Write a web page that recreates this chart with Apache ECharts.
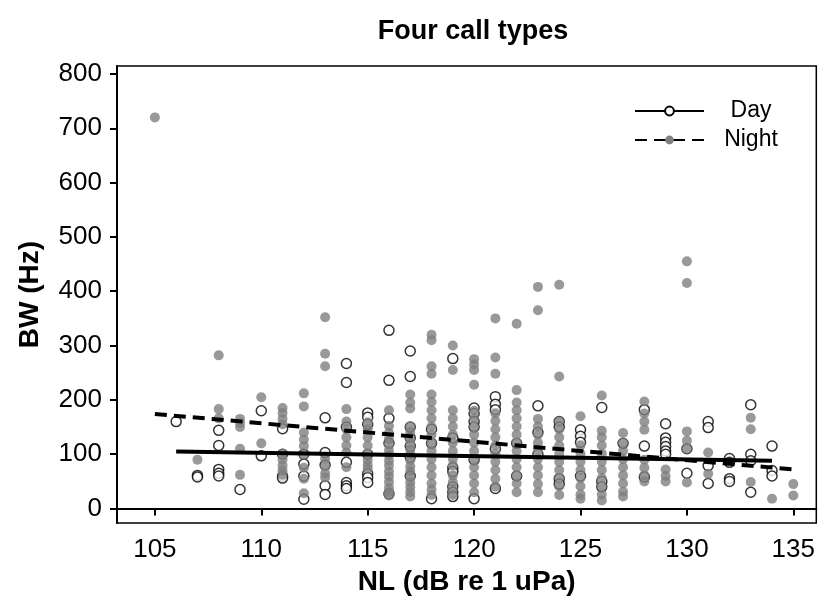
<!DOCTYPE html>
<html>
<head>
<meta charset="utf-8">
<title>Four call types</title>
<script src="https://cdn.jsdelivr.net/npm/echarts@6/dist/echarts.min.js"></script>
<style>
    html, body { margin: 0; padding: 0; background: #fff; }
    #chart { width: 818px; height: 601px; }
</style>
</head>
<body>
<div id="chart"></div>
<script>
// NL levels (dB re 1 uPa), one column of points per level
const nlLevels = [105, 106, 107, 108, 109, 110, 111, 112, 113, 114, 115, 116, 117, 118, 119, 120,
    121, 122, 123, 124, 125, 126, 127, 128, 129, 130, 131, 132, 133, 134, 135];

// BW (Hz) of day calls, per NL level
const dayBW = [
    [],
    [160],
    [61, 58],
    [144, 116, 72, 65, 60],
    [35],
    [180, 97],
    [147, 100, 60, 56],
    [100, 82, 60, 17],
    [167, 103, 80, 42, 26],
    [267, 232, 150, 85, 48, 42, 37],
    [176, 168, 155, 100, 64, 57, 48],
    [328, 236, 166, 120, 27],
    [290, 243, 150, 130, 115, 95, 60],
    [146, 120, 18],
    [276, 130, 75, 68, 40, 30, 22],
    [185, 175, 160, 150, 90, 18],
    [206, 192, 182, 110, 37],
    [120, 60],
    [189, 140, 100],
    [160, 150, 55, 45],
    [145, 133, 122, 60],
    [186, 50, 40],
    [120],
    [182, 115, 58],
    [156, 130, 122, 114, 106, 100],
    [110, 65],
    [160, 149, 79, 46],
    [92, 85, 55, 50],
    [191, 100, 88, 30],
    [115, 70, 60],
    []
];

// BW (Hz) of night calls, per NL level
const nightBW = [
    [720],
    [],
    [90],
    [282, 183, 166],
    [165, 158, 150, 110, 62],
    [205, 120],
    [185, 176, 165, 155, 101, 90, 79, 70, 62],
    [212, 188, 140, 127, 115, 99, 75, 55, 28],
    [352, 285, 262, 92, 78, 65, 57],
    [183, 160, 146, 131, 116, 103, 76],
    [158, 146, 131, 116, 101, 89, 80, 73],
    [181, 152, 139, 128, 118, 107, 98, 88, 79, 68, 59, 49, 38, 30, 24],
    [210, 195, 184, 151, 141, 129, 119, 108, 99, 89, 78, 69, 58, 48, 39, 30, 22],
    [320, 310, 262, 248, 210, 196, 181, 166, 151, 136, 121, 106, 91, 76, 61, 46, 35, 25],
    [300, 255, 181, 166, 151, 136, 121, 106, 91, 79, 61, 49, 36, 25],
    [275, 265, 255, 228, 180, 166, 151, 136, 121, 106, 91, 76, 61, 46, 30],
    [350, 278, 248, 175, 161, 146, 131, 116, 101, 86, 71, 55, 40],
    [340, 218, 195, 181, 166, 151, 136, 121, 106, 91, 76, 61, 46, 30],
    [408, 365, 165, 151, 136, 121, 106, 91, 76, 61, 45, 30],
    [412, 243, 160, 146, 131, 116, 101, 86, 71, 56, 41, 25],
    [170, 116, 101, 86, 71, 56, 41, 26, 18],
    [208, 143, 131, 116, 101, 86, 71, 56, 41, 26, 15],
    [139, 121, 106, 91, 76, 61, 46, 31, 22],
    [197, 175, 160, 145, 90, 75, 61, 50],
    [72, 60, 50],
    [455, 415, 142, 125, 110, 48],
    [103, 64],
    [],
    [167, 146, 49],
    [18],
    [45, 24]
];

// fitted lines, end points
const dayFitNL = [106, 134];
const dayFitBW = [105, 88];
const nightFitNL = [105, 135];
const nightFitBW = [174, 72];

const xTicks = [105, 110, 115, 120, 125, 130, 135];
const yTicks = [0, 100, 200, 300, 400, 500, 600, 700, 800];

const font = 'Arial, "Liberation Sans", sans-serif';

function toPoints(levels, groups) {
    let pts = [];
    levels.forEach((nl, i) => {
        for (let bw of groups[i]) pts.push([nl, bw]);
    });
    return pts;
}

function toLine(xs, ys) {
    return xs.map((x, i) => [x, ys[i]]);
}

let chart = echarts.init(document.getElementById("chart"));

let option = {
    animation: false,
    title: {
        text: "Four call types",
        left: 468,
        top: 13,
        textAlign: "center",
        textStyle: { fontFamily: font, fontSize: 27, fontWeight: "bold", color: "#000" },
    },
    legend: {
        data: ["Day", "Night"],
        orient: "vertical",
        left: 629,
        top: 94,
        itemWidth: 69,
        itemHeight: 11,
        itemGap: 5,
        selectedMode: false,
        formatter: "{t|{name}}",
        textStyle: {
            fontFamily: font,
            fontSize: 23,
            color: "#000",
            lineHeight: 24,
            rich: { t: { width: 84, align: "center", fontSize: 23, fontFamily: font, lineHeight: 24 } },
        },
    },
    grid: {
        left: 117,
        top: 66,
        right: 1,
        bottom: 73,
        show: true,
        borderColor: "#000",
        borderWidth: 1.5,
    },
    xAxis: {
        type: "value",
        min: 103.22,
        max: 136.08,
        name: "NL (dB re 1 uPa)",
        nameLocation: "middle",
        nameGap: 41,
        nameTextStyle: { fontFamily: font, fontSize: 28, fontWeight: "bold", color: "#000" },
        axisLine: { show: true, lineStyle: { color: "#000", width: 2 } },
        axisTick: { show: true, length: 7, lineStyle: { color: "#000", width: 2 }, customValues: xTicks },
        axisLabel: { margin: 14, fontFamily: font, fontSize: 26, color: "#000", customValues: xTicks },
        splitLine: { show: false },
    },
    yAxis: {
        type: "value",
        min: -26.8,
        max: 814.6,
        name: "BW (Hz)",
        nameLocation: "middle",
        nameGap: 73,
        nameTextStyle: { fontFamily: font, fontSize: 28, fontWeight: "bold", color: "#000" },
        axisLine: { show: true, lineStyle: { color: "#000", width: 2 } },
        axisTick: { show: true, length: 7, lineStyle: { color: "#000", width: 2 }, customValues: yTicks },
        axisLabel: { margin: 15, fontFamily: font, fontSize: 26, color: "#000", customValues: yTicks },
        splitLine: { show: false },
    },
    series: [
        {
            name: "Day points",
            type: "scatter",
            symbol: "circle",
            symbolSize: 10,
            itemStyle: { color: "#fff", borderColor: "#000", borderWidth: 1.5 },
            data: toPoints(nlLevels, dayBW),
            z: 2,
        },
        {
            name: "Night points",
            type: "scatter",
            symbol: "circle",
            symbolSize: 10,
            itemStyle: { color: "#808080" },
            data: toPoints(nlLevels, nightBW),
            z: 3,
        },
        {
            name: "Day",
            type: "line",
            symbol: "emptyCircle",
            showSymbol: false,
            itemStyle: { color: "#000" },
            lineStyle: { color: "#000", width: 4, type: "solid" },
            data: toLine(dayFitNL, dayFitBW),
            z: 4,
        },
        {
            name: "Night",
            type: "line",
            symbol: "circle",
            showSymbol: false,
            itemStyle: { color: "#808080" },
            lineStyle: { color: "#000", width: 4, type: [12, 7] },
            data: toLine(nightFitNL, nightFitBW),
            z: 4,
        },
    ],
};

chart.setOption(option);
</script>
</body>
</html>
